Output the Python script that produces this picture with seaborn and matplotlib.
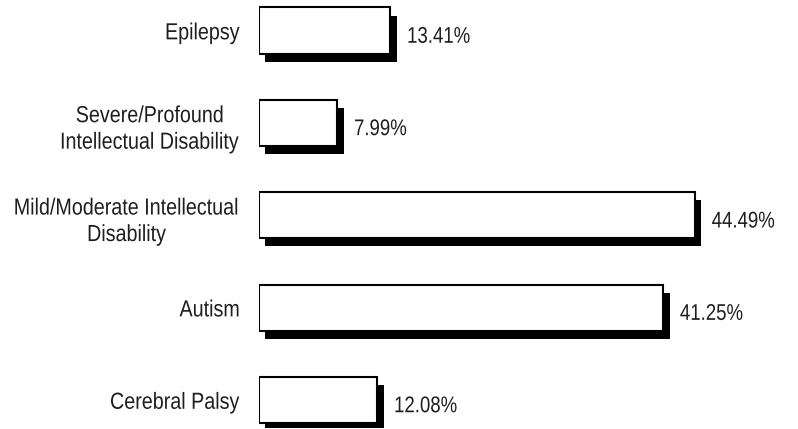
import matplotlib
matplotlib.use("Agg")
import matplotlib.pyplot as plt
import matplotlib.patheffects as pe
from matplotlib.transforms import Affine2D
import seaborn as sns
import pandas as pd

# Data
categories = [
    "Epilepsy",
    "Severe/Profound\nIntellectual Disability",
    "Mild/Moderate Intellectual\nDisability",
    "Autism",
    "Cerebral Palsy",
]
percentages = [13.41, 7.99, 44.49, 41.25, 12.08]
value_labels = ["13.41%", "7.99%", "44.49%", "41.25%", "12.08%"]

df = pd.DataFrame({"condition": categories, "pct": percentages})


class TallText(pe.AbstractPathEffect):
    """Stretch glyphs vertically (the original font looks condensed/tall)."""
    def __init__(self, sy=1.2, mid=36):
        super().__init__()
        self.sy = sy
        self.mid = mid

    def draw_path(self, renderer, gc, tpath, affine, rgbFace=None):
        stretch = Affine2D().translate(0, -self.mid).scale(1, self.sy).translate(0, self.mid)
        renderer.draw_path(gc, tpath, stretch + affine, rgbFace)


sns.set_style("white")
plt.rcParams["font.family"] = ["Liberation Sans", "DejaVu Sans"]
text_color = "#1e1e1e"

fig = plt.figure(figsize=(7.98, 4.29), dpi=100)
ax = fig.add_axes([0.3246, 0.003, 0.6754, 0.9904])

sns.barplot(data=df, x="pct", y="condition", orient="h", color="white",
            edgecolor="black", linewidth=1.5, width=0.5, saturation=1, ax=ax)

# drop shadow under each bar
for bar in ax.patches:
    bar.set_path_effects([
        pe.SimplePatchShadow(offset=(4.6, -5.8), shadow_rgbFace="black", alpha=1),
        pe.Normal(),
    ])

for bar, txt in zip(ax.patches, value_labels):
    ax.annotate(txt, (bar.get_width(), bar.get_y() + bar.get_height() / 2),
                xytext=(12, -4.5), textcoords="offset points",
                ha="left", va="center", fontsize=13.4, color=text_color,
                path_effects=[TallText(1.22)])

ax.set_xlim(0, 55)
ax.set_ylim(4.3, -0.3)
ax.set_xlabel("")
ax.set_ylabel("")
ax.set_xticks([])
ax.tick_params(axis="y", length=0, pad=13.7, labelsize=14.2, labelcolor=text_color)
for lab in ax.get_yticklabels():
    lab.set_multialignment("center")
    lab.set_linespacing(1.5)
    lab.set_path_effects([TallText(1.18)])
sns.despine(ax=ax, left=True, bottom=True)

fig.savefig("out.png", dpi=100)
